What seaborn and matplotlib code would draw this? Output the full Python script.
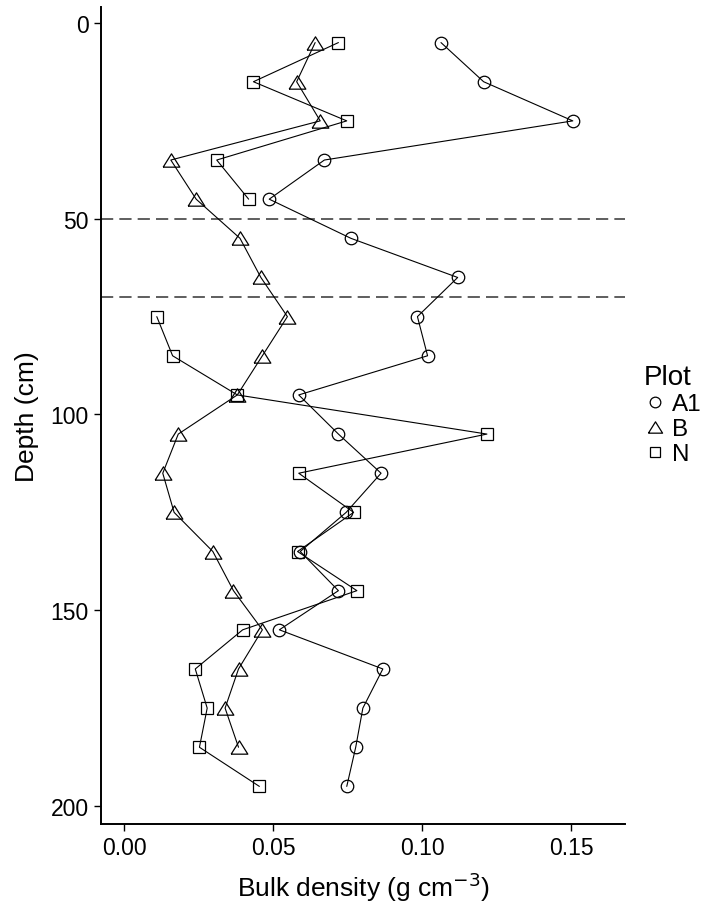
import numpy as np
import pandas as pd
import matplotlib
matplotlib.use("Agg")
import matplotlib.pyplot as plt
from matplotlib.lines import Line2D
import seaborn as sns

# Sampling depths (cm), shared by all plots
depths = [5, 15, 25, 35, 45, 55, 65, 75, 85, 95, 105, 115, 125, 135, 145, 155, 165, 175, 185, 195]

# Bulk density (g cm^-3) per plot; NaN where no sample was taken
bd_a1 = [0.1063, 0.1206, 0.1505, 0.0672, 0.0487, 0.0761, 0.1119, 0.0984, 0.1018, 0.0586,
         0.0719, 0.0862, 0.0745, 0.0591, 0.0719, 0.0521, 0.0868, 0.0801, 0.0777, 0.0747]
bd_b = [0.0641, 0.0579, 0.0658, 0.0157, 0.0242, 0.0389, 0.0459, 0.0548, 0.0464, 0.0380,
        0.0182, 0.0130, 0.0168, 0.0298, 0.0367, 0.0464, 0.0384, 0.0339, 0.0384, np.nan]
bd_n = [0.0719, 0.0434, 0.0747, 0.0311, 0.0418, np.nan, np.nan, 0.0110, 0.0163, 0.0380,
        0.1217, 0.0586, 0.0770, 0.0582, 0.0781, 0.0398, 0.0239, 0.0279, 0.0253, 0.0454]

plots = ["A1", "B", "N"]
boundaries = [50, 70]

# Open markers; a slightly flattened triangle for plot B
tri = [(-1.0, -0.8), (1.0, -0.8), (0.0, 0.8), (-1.0, -0.8)]
markers = {"A1": "o", "B": tri, "N": "s"}
msizes = {"A1": 9, "B": 12, "N": 9}

frames = []
for p, vals in zip(plots, [bd_a1, bd_b, bd_n]):
    d = pd.DataFrame({"Plot": p, "depth": depths, "bd": vals})
    # gaps in sampling break the profile line into separate segments
    d["segment"] = d["bd"].isna().cumsum()
    frames.append(d.dropna())
df = pd.concat(frames, ignore_index=True)

sns.set_theme(style="ticks")
plt.rcParams["font.family"] = ["Liberation Sans", "DejaVu Sans"]
plt.rcParams["text.color"] = "black"
plt.rcParams["axes.labelcolor"] = "black"

fig = plt.figure(figsize=(7.09, 9.04), dpi=100)
ax = fig.add_axes([0.1425, 0.0874, 0.739, 0.9038])

for p in plots:
    sub = df[df["Plot"] == p]
    sns.lineplot(data=sub, x="bd", y="depth", units="segment", orient="y", sort=True,
                 estimator=None, color="black", linewidth=0.8, marker=markers[p],
                 markersize=msizes[p], markerfacecolor="none", markeredgecolor="black",
                 markeredgewidth=0.9, legend=False, ax=ax)

for b in boundaries:
    ax.axhline(b, color="#333333", linestyle=(0, (8, 4)), linewidth=1.1, zorder=0)

ax.set_xlim(-0.0077, 0.168)
ax.set_ylim(204.6, -4.1)
ax.set_xticks([0.00, 0.05, 0.10, 0.15])
ax.set_xticklabels(["0.00", "0.05", "0.10", "0.15"])
ax.set_yticks([0, 50, 100, 150, 200])

for side in ["top", "right"]:
    ax.spines[side].set_visible(False)
for side in ["left", "bottom"]:
    ax.spines[side].set_linewidth(1.4)
    ax.spines[side].set_color("black")
ax.tick_params(axis="both", labelsize=16.5, colors="black", length=5, width=1.0, pad=4)

ax.set_xlabel(r"Bulk density (g cm$^{-3}$)", fontsize=19, labelpad=7)
ax.set_ylabel("Depth (cm)", fontsize=19, labelpad=8)

handles = [Line2D([], [], linestyle="none", marker=markers[p], markersize=msizes[p] * 0.85,
                  markerfacecolor="none", markeredgecolor="black", markeredgewidth=0.9)
           for p in plots]
leg = fig.legend(handles, plots, title="Plot", loc="center left",
                 bbox_to_anchor=(0.908, 0.540), frameon=False, fontsize=17.5,
                 title_fontsize=20, handletextpad=0.25, handlelength=0.9,
                 labelspacing=0.12, borderaxespad=0, borderpad=0)
leg._legend_box.align = "left"

fig.savefig("out.png", dpi=100)
